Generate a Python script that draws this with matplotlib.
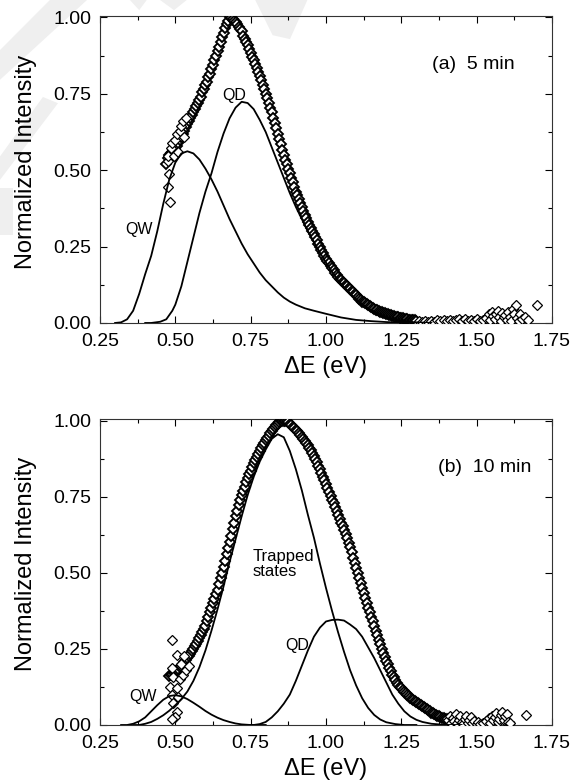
import matplotlib
matplotlib.use("Agg")
import matplotlib.pyplot as plt
import numpy as np
from matplotlib.patches import Polygon
from matplotlib.ticker import MultipleLocator

plt.rcParams["font.family"] = ["Liberation Sans", "DejaVu Sans"]

# ---- panel (a) 5 min : measured spectrum (dense band, 0.005 eV steps from 0.47)
A_DATA_START = 0.47
a_data_y = [
    .52, .54, .55, .555, .56, .565, .57, .58, .59, .60, .61, .62, .63, .64, .65, .66,
    .67, .68, .69, .70, .71, .72, .73, .74, .755, .765, .78, .79, .805, .815, .83, .845,
    .86, .875, .89, .905, .92, .935, .95, .965, .98, .99, 1.0, .998, .995, .99, .985, .978,
    .97, .962, .955, .94, .93, .92, .91, .898, .885, .872, .86, .848, .835, .822, .81, .795,
    .78, .765, .75, .735, .72, .705, .69, .672, .655, .637, .62, .602, .585, .567, .55, .535,
    .52, .505, .49, .475, .46, .445, .43, .418, .405, .392, .38, .368, .355, .343, .33, .32,
    .31, .30, .29, .28, .27, .26, .25, .24, .23, .22, .21, .202, .195, .187, .18, .172,
    .165, .157, .15, .145, .14, .135, .13, .125, .12, .115, .11, .105, .10, .095, .09, .085,
    .08, .075, .07, .067, .065, .062, .06, .056, .052, .048, .045, .043, .041, .039, .037, .035,
    .033, .031, .030, .028, .026, .025, .023, .022, .021, .019, .018, .017, .016, .015, .014, .013,
    .012, .011, .010, .010, .009, .009, .008,
]
# scattered points of panel (a) (low-energy shoulder and noisy tail)
a_scatter_x = [0.477, 0.482, 0.480, 0.476, 0.477, 0.485, 0.490, 0.495, 0.500, 0.505, 0.510,
               0.515, 0.520, 0.530, 0.525, 0.535,
               1.31, 1.32, 1.33, 1.34, 1.35, 1.36, 1.37, 1.38, 1.39, 1.40, 1.41, 1.42, 1.43,
               1.44, 1.45, 1.46, 1.47, 1.48, 1.49, 1.50, 1.51, 1.52, 1.53, 1.54, 1.545, 1.55,
               1.555, 1.56, 1.565, 1.57, 1.575, 1.58, 1.585, 1.59, 1.595, 1.60, 1.605, 1.61,
               1.615, 1.62, 1.625, 1.63, 1.635, 1.64, 1.645, 1.65, 1.66, 1.67, 1.70]
a_scatter_y = [0.444, 0.395, 0.488, 0.53, 0.547, 0.574, 0.59, 0.545, 0.60, 0.618, 0.56,
               0.63, 0.645, 0.61, 0.66, 0.67,
               .006, .004, .007, .003, .008, .002, .009, .005, .010, .006, .011, .007, .009,
               .012, .008, .013, .006, .010, .007, .012, .005, .009, .015, .028, .010, .035,
               .022, .012, .030, .040, .020, .008, .032, .018, .026, .010, .035, .020,
               .006, .045, .030, .058, .015, .008, .028, .012, .018, .010, .058]

# fitted components of panel (a)
a_qw_x = [0.30, 0.32, 0.34, 0.36, 0.38, 0.40, 0.42, 0.44, 0.46, 0.48, 0.50, 0.52, 0.54, 0.56,
          0.58, 0.60, 0.62, 0.64, 0.66, 0.68, 0.70, 0.72, 0.74, 0.76, 0.78, 0.80, 0.82, 0.84,
          0.86, 0.88, 0.90, 0.93, 0.96, 1.00, 1.05, 1.10, 1.15, 1.20, 1.25, 1.30]
a_qw_y = [0.0, 0.002, 0.012, 0.04, 0.095, 0.16, 0.22, 0.30, 0.39, 0.47, 0.525, 0.555, 0.562,
          0.555, 0.535, 0.505, 0.47, 0.43, 0.385, 0.34, 0.30, 0.26, 0.225, 0.195, 0.165, 0.14,
          0.12, 0.10, 0.083, 0.07, 0.06, 0.048, 0.04, 0.03, 0.018, 0.01, 0.006, 0.003, 0.001, 0.0]
a_qd_x = [0.40, 0.42, 0.45, 0.47, 0.49, 0.50, 0.52, 0.54, 0.56, 0.58, 0.60, 0.62, 0.64, 0.66,
          0.68, 0.70, 0.72, 0.74, 0.76, 0.78, 0.80, 0.82, 0.84, 0.86, 0.88, 0.90, 0.92, 0.94,
          0.96, 0.98, 1.00, 1.02, 1.04, 1.06, 1.08, 1.10, 1.12, 1.14, 1.16, 1.18, 1.20, 1.23,
          1.26, 1.30, 1.35]
a_qd_y = [0.0, 0.0, 0.004, 0.012, 0.04, 0.06, 0.12, 0.20, 0.28, 0.36, 0.43, 0.49, 0.56, 0.62,
          0.67, 0.705, 0.724, 0.72, 0.70, 0.665, 0.625, 0.575, 0.525, 0.475, 0.425, 0.38, 0.34,
          0.30, 0.265, 0.23, 0.198, 0.168, 0.14, 0.117, 0.096, 0.078, 0.062, 0.048, 0.036, 0.027,
          0.019, 0.01, 0.005, 0.002, 0.0]

# ---- panel (b) 10 min : measured spectrum (0.005 eV steps from 0.48)
B_DATA_START = 0.48
b_data_y = [
    .160, .163, .167, .171, .175, .180, .185, .190, .195, .201, .207, .213, .220, .227, .234, .242,
    .250, .258, .267, .276, .285, .295, .305, .315, .325, .340, .355, .370, .385, .400, .415, .430,
    .445, .463, .482, .500, .520, .540, .560, .580, .600, .622, .643, .664, .685, .703, .721, .738,
    .755, .769, .783, .797, .810, .823, .835, .848, .860, .870, .880, .890, .900, .909, .918, .926,
    .935, .943, .950, .958, .965, .972, .978, .984, .990, .994, .997, .999, 1.0, .999, .997, .994,
    .990, .985, .980, .975, .970, .964, .958, .951, .945, .939, .933, .926, .920, .911, .903, .894,
    .885, .874, .863, .851, .840, .828, .815, .803, .790, .778, .765, .753, .740, .728, .715, .703,
    .690, .678, .665, .653, .640, .626, .613, .599, .585, .568, .550, .533, .515, .499, .483, .466,
    .450, .434, .418, .401, .385, .370, .355, .340, .325, .310, .295, .280, .265, .251, .238, .224,
    .210, .199, .188, .176, .165, .156, .148, .139, .130, .125, .120, .115, .110, .105, .100, .095,
    .090, .086, .083, .079, .075, .072, .068, .065, .062, .058, .055, .051, .048, .045, .041, .038,
    .035, .033, .030, .028, .025, .024, .023, .021, .020,
]
b_scatter_x = [0.488, 0.504, 0.488, 0.493, 0.482, 0.504, 0.488, 0.510, 0.493, 0.504, 0.499,
               0.488, 0.515, 0.525, 0.535, 0.520, 0.545, 0.530,
               1.405, 1.41, 1.415, 1.42, 1.425, 1.43, 1.435, 1.44, 1.445, 1.45, 1.455, 1.46,
               1.465, 1.47, 1.475, 1.48, 1.485, 1.49, 1.50, 1.505, 1.51, 1.52, 1.53, 1.54,
               1.545, 1.55, 1.555, 1.56, 1.565, 1.57, 1.575, 1.58, 1.585, 1.59, 1.595, 1.60,
               1.605, 1.61, 1.665]
b_scatter_y = [0.279, 0.23, 0.186, 0.158, 0.126, 0.12, 0.098, 0.093, 0.071, 0.044, 0.027,
               0.02, 0.15, 0.165, 0.18, 0.20, 0.195, 0.225,
               .015, .030, .008, .022, .012, .035, .005, .018, .028, .010, .004, .020,
               .030, .008, .015, .025, .005, .012, .003, .009, .002, .006, .012, .022,
               .008, .030, .015, .025, .038, .010, .020, .032, .042, .015, .028, .035,
               .010, .005, .033]

b_qw_x = [0.32, 0.34, 0.36, 0.38, 0.40, 0.42, 0.44, 0.46, 0.48, 0.50, 0.52, 0.54, 0.56, 0.58,
          0.60, 0.62, 0.64, 0.66, 0.68, 0.70, 0.72, 0.75, 0.80]
b_qw_y = [0.0, 0.0, 0.004, 0.012, 0.025, 0.045, 0.065, 0.083, 0.095, 0.098, 0.094, 0.085,
          0.073, 0.06, 0.046, 0.034, 0.024, 0.016, 0.01, 0.005, 0.002, 0.0, 0.0]
b_trap_x = [0.36, 0.38, 0.40, 0.42, 0.44, 0.46, 0.48, 0.50, 0.52, 0.54, 0.56, 0.58, 0.60, 0.62,
            0.64, 0.66, 0.68, 0.70, 0.72, 0.74, 0.76, 0.78, 0.80, 0.82, 0.84, 0.86, 0.88, 0.90,
            0.92, 0.94, 0.96, 0.98, 1.00, 1.02, 1.04, 1.06, 1.08, 1.10, 1.12, 1.14, 1.16, 1.18,
            1.20, 1.23, 1.26, 1.30]
b_trap_y = [0.0, 0.0, 0.004, 0.01, 0.02, 0.032, 0.047, 0.065, 0.085, 0.11, 0.145, 0.19, 0.245,
            0.31, 0.38, 0.455, 0.535, 0.61, 0.685, 0.755, 0.815, 0.865, 0.905, 0.94, 0.955, 0.945,
            0.90, 0.84, 0.77, 0.69, 0.615, 0.53, 0.45, 0.375, 0.305, 0.24, 0.18, 0.13, 0.088,
            0.056, 0.033, 0.018, 0.009, 0.003, 0.0, 0.0]
b_qd_x = [0.72, 0.76, 0.78, 0.80, 0.82, 0.84, 0.86, 0.88, 0.90, 0.92, 0.94, 0.96, 0.98, 1.00,
          1.02, 1.04, 1.06, 1.08, 1.10, 1.12, 1.14, 1.16, 1.18, 1.20, 1.22, 1.24, 1.26, 1.28,
          1.30, 1.32, 1.35, 1.40, 1.45]
b_qd_y = [0.0, 0.0, 0.003, 0.01, 0.025, 0.045, 0.07, 0.10, 0.145, 0.195, 0.245, 0.29, 0.32,
          0.34, 0.345, 0.346, 0.343, 0.33, 0.315, 0.29, 0.255, 0.22, 0.18, 0.14, 0.10, 0.07,
          0.045, 0.028, 0.017, 0.01, 0.004, 0.0, 0.0]

X_TICKS = [0.25, 0.50, 0.75, 1.00, 1.25, 1.50, 1.75]
Y_TICKS = [0.00, 0.25, 0.50, 0.75, 1.00]


def style_axes(ax):
    ax.set_xlim(0.25, 1.75)
    ax.set_ylim(0.0, 1.005)
    ax.set_xticks(X_TICKS)
    ax.set_yticks(Y_TICKS)
    ax.set_xticklabels([f"{v:.2f}" for v in X_TICKS])
    ax.set_yticklabels([f"{v:.2f}" for v in Y_TICKS])
    ax.xaxis.set_minor_locator(MultipleLocator(0.125))
    ax.yaxis.set_minor_locator(MultipleLocator(0.125))
    ax.tick_params(which="both", direction="in", top=True, right=True,
                   labelsize=14, width=0.8)
    ax.tick_params(axis="x", which="major", pad=7.5)
    ax.tick_params(axis="y", which="major", pad=6)
    ax.tick_params(which="major", length=5)
    ax.tick_params(which="minor", length=3)
    for sp in ax.spines.values():
        sp.set_linewidth(0.8)
        sp.set_color("#333333")
    ax.set_xlabel("\u0394E (eV)", fontsize=17, labelpad=4)
    ax.set_ylabel("Normalized Intensity", fontsize=17)
    ax.yaxis.set_label_coords(-0.14, 0.525)


def draw_panel(ax, start, data_y, sc_x, sc_y, curves):
    dx = start + 0.005 * np.arange(len(data_y))
    mk = dict(marker="D", markersize=5.2, markerfacecolor="white",
              markeredgecolor="black", markeredgewidth=1.35, linestyle="none")
    ax.plot(dx, data_y, zorder=3, **mk)
    ax.plot(sc_x, sc_y, zorder=3, **dict(mk, markeredgewidth=0.9))
    for cx, cy in curves:
        ax.plot(cx, cy, color="black", linewidth=1.3, zorder=4)
    style_axes(ax)


fig = plt.figure(figsize=(5.8, 7.82), dpi=100)

# faint watermark stripes from the scan
for pts in [
    [(0.0, 0.936), (0.086, 1.0), (0.150, 1.0), (0.0, 0.898)],
    [(0.0, 0.800), (0.074, 0.876), (0.100, 0.868), (0.0, 0.770)],
    [(0.0, 0.760), (0.022, 0.760), (0.022, 0.700), (0.0, 0.700)],
    [(0.224, 1.0), (0.253, 1.0), (0.240, 0.987)],
    [(0.276, 1.0), (0.322, 1.0), (0.300, 0.987)],
    [(0.440, 1.0), (0.530, 1.0), (0.500, 0.950), (0.470, 0.955)],
]:
    fig.add_artist(Polygon(pts, closed=True, transform=fig.transFigure,
                           facecolor="#efefef", edgecolor="none", zorder=0))

ax1 = fig.add_axes([0.1724, 0.587, 0.7793, 0.3926])
ax2 = fig.add_axes([0.1724, 0.0729, 0.7793, 0.3913])
for ax in (ax1, ax2):
    ax.patch.set_alpha(0)

draw_panel(ax1, A_DATA_START, a_data_y, a_scatter_x, a_scatter_y,
           [(a_qw_x, a_qw_y), (a_qd_x, a_qd_y)])
ax1.text(1.49, 0.847, "(a)  5 min", fontsize=14, ha="center", va="center")
ax1.text(0.695, 0.746, "QD", fontsize=11.5, ha="center", va="center")
ax1.text(0.38, 0.306, "QW", fontsize=11.5, ha="center", va="center")

draw_panel(ax2, B_DATA_START, b_data_y, b_scatter_x, b_scatter_y,
           [(b_qw_x, b_qw_y), (b_trap_x, b_trap_y), (b_qd_x, b_qd_y)])
ax2.text(1.528, 0.846, "(b)  10 min", fontsize=14, ha="center", va="center")
ax2.text(0.757, 0.53, "Trapped\nstates", fontsize=12, ha="left", va="center",
         linespacing=1.0)
ax2.text(0.905, 0.262, "QD", fontsize=11.5, ha="center", va="center")
ax2.text(0.393, 0.092, "QW", fontsize=11.5, ha="center", va="center")

fig.savefig("out.png", dpi=100)
